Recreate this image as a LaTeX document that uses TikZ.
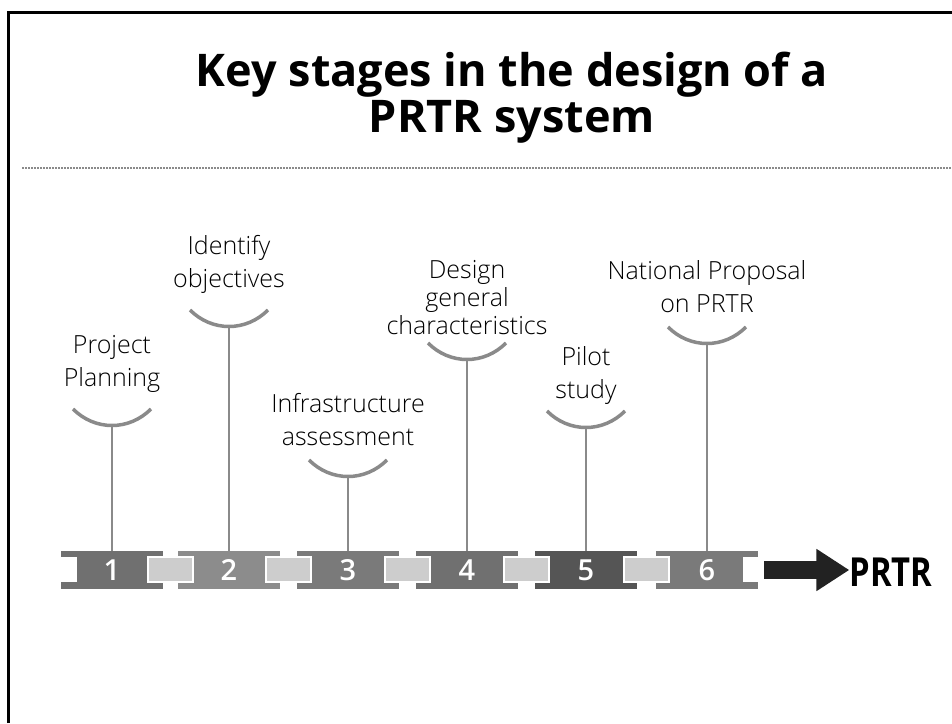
\documentclass[tikz,border=0pt]{standalone}
\usepackage{fontspec}
\setmainfont{Open Sans}
\newfontfamily\lightfont{Open Sans Light}
\newfontfamily\semifont{Open Sans Semibold}
\usepackage{tikz}
\usetikzlibrary{arrows.meta,positioning}

\definecolor{blkA}{RGB}{112,112,112}
\definecolor{blkB}{RGB}{140,140,140}
\definecolor{blkC}{RGB}{122,122,122}
\definecolor{blkD}{RGB}{112,112,112}
\definecolor{blkE}{RGB}{85,85,85}
\definecolor{blkF}{RGB}{122,122,122}
\definecolor{linkgray}{RGB}{205,205,205}
\definecolor{stemgray}{RGB}{138,138,138}
\definecolor{arrowblack}{RGB}{34,34,34}

\begin{document}
\begin{tikzpicture}[x=1pt,y=1pt,yscale=-1,
  stage/.style={minimum width=102pt,minimum height=38pt,inner sep=0pt,text=white,font=\semifont\fontsize{29}{29}\selectfont},
  link/.style={minimum width=45pt,minimum height=25pt,inner sep=0pt,fill=linkgray,draw=white,line width=1.5pt},
  stem/.style={draw=stemgray,line width=2.2pt},
  cup/.style={draw=stemgray,line width=3.5pt},
  lbl/.style={align=center,inner sep=0pt,text=black,font=\lightfont\fontsize{25}{33}\selectfont},
  flow/.style={draw=arrowblack,line width=18pt,-{Triangle[length=33pt,width=40pt]}}]
\useasboundingbox (0,0) rectangle (952,723);

%Shape: Frame
\draw [line width=3pt] (8,723) |- (952,12.5) ;
%Straight Lines: dotted rule
\draw [stemgray,line width=1.5pt,dash pattern=on 1.5pt off 1.5pt] (22,168) -- (952,168) ;

% Text Node
\node [align=center,inner sep=0pt,font=\bfseries\fontsize{45}{46}\selectfont] (title) at (512,98) {Key stages in the design of a\\PRTR system};

%Shape: Stage blocks
\node [stage,fill=blkA] (s1) at (112,570) {1};
\node [stage,fill=blkB] (s2) at (229,570) {2};
\node [stage,fill=blkC] (s3) at (348,570) {3};
\node [stage,fill=blkD] (s4) at (467,570) {4};
\node [stage,fill=blkE] (s5) at (586,570) {5};
\node [stage,fill=blkF] (s6) at (707,570) {6};

%Shape: end notches
\fill [white] (55,557) rectangle (77,582) ;
\fill [white] (743,557) rectangle (765,582) ;

%Shape: links between blocks
\node [link] (l12) at (170.5,569.5) {};
\node [link] (l23) at (288.5,569.5) {};
\node [link] (l34) at (407.5,569.5) {};
\node [link] (l45) at (526.5,569.5) {};
\node [link] (l56) at (646.5,569.5) {};

%Straight Lines: stems
\coordinate (c1) at (112,426);
\coordinate (c2) at (229,327);
\coordinate (c3) at (348,477);
\coordinate (c4) at (467,360);
\coordinate (c5) at (586,428);
\coordinate (c6) at (707,344);
\draw [stem] (s1.north) -- (c1) ;
\draw [stem] (s2.north) -- (c2) ;
\draw [stem] (s3.north) -- (c3) ;
\draw [stem] (s4.north) -- (c4) ;
\draw [stem] (s5.north) -- (c5) ;
\draw [stem] (s6.north) -- (c6) ;

%Curve Lines: cups
\draw [cup] (73,409) .. controls (95,431) and (129,431) .. (151,409) ;
\draw [cup] (190,310) .. controls (212,332) and (246,332) .. (268,310) ;
\draw [cup] (309,460) .. controls (331,482) and (365,482) .. (387,460) ;
\draw [cup] (428,343) .. controls (450,365) and (484,365) .. (506,343) ;
\draw [cup] (547,411) .. controls (569,433) and (603,433) .. (625,411) ;
\draw [cup] (668,327) .. controls (690,349) and (724,349) .. (746,327) ;

% Text Node
\node [lbl] (t1) at (112,363.5) {Project\\Planning};
% Text Node
\node [lbl] (t2) at (229,264) {Identify\\objectives};
% Text Node
\node [lbl] (t3) at (348,420) {Infrastructure\\assessment};
% Text Node
\node [lbl,font=\lightfont\fontsize{25}{28}\selectfont] (t4) at (467,298) {Design\\general\\characteristics};
% Text Node
\node [lbl] (t5) at (586,375) {Pilot\\study};
% Text Node
\node [lbl] (t6) at (707,286.5) {National Proposal\\on PRTR};

% Text Node
\node [anchor=base,inner sep=0pt,font=\bfseries\fontsize{40}{40}\selectfont] (prtr) at (891,586) {\scalebox{0.82}[1]{PRTR}};
%Straight Lines: arrow to PRTR
\coordinate (tail) at (764,570);
\draw [flow] (tail) -- (prtr.west |- tail) ;

\end{tikzpicture}
\end{document}
